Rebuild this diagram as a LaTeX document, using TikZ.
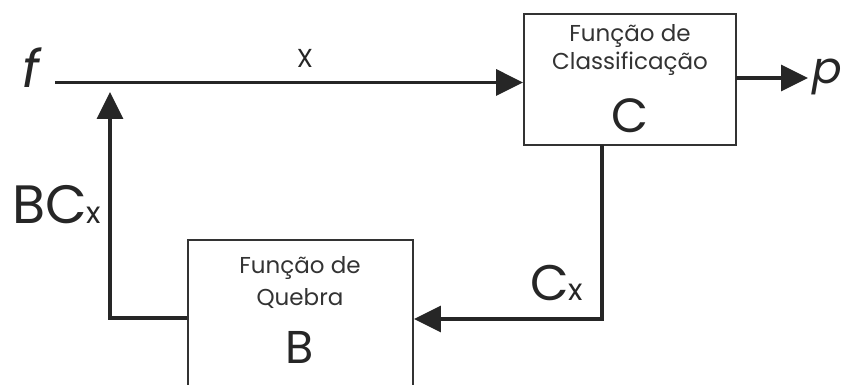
\documentclass[tikz,border=0pt]{standalone}
\usepackage{fontspec}
\setmainfont{Poppins}
\setsansfont{Poppins}
\usetikzlibrary{arrows.meta}
\begin{document}
\begin{tikzpicture}[x=1pt,y=-1pt,
  blk/.style={draw=black!80, line width=1.8pt, inner sep=0pt},
  conn/.style={line width=3.3pt, draw=black!85, -{Triangle[length=27pt,width=26pt]}},
  lbl/.style={inner sep=0pt, text=black!85, anchor=base},
  box txt/.style={inner sep=0pt, anchor=base, text=black!80, font=\fontsize{23}{25}\selectfont}]
\useasboundingbox (0,0) rectangle (843,385);
% boxes
\node[blk, minimum width=212pt, minimum height=131pt] (C) at (630,79.5) {};
\node[blk, minimum width=225pt, minimum height=160pt] (B) at (300.5,320) {};
% box texts
\node[box txt] (Ct1) at (630,42) {Função de};
\node[box txt] (Ct2) at (630,70) {Classificação};
\node[lbl, font=\fontsize{48}{48}\selectfont] (Ct3) at (630,132) {C};
\node[box txt] (Bt1) at (300,273) {Função de};
\node[box txt] (Bt2) at (300,305) {Quebra};
\node[lbl, font=\fontsize{46}{46}\selectfont] (Bt3) at (300,363) {B};
% labels
\node[lbl, font=\itshape\fontsize{52}{52}\selectfont] (f) at (31,88) {f};
\node[lbl, font=\itshape\fontsize{44}{44}\selectfont] (p) at (827,84) {p};
\node[lbl, font=\fontsize{26}{26}\selectfont] (X) at (305,68) {X};
\node[lbl, anchor=base west, font=\fontsize{54}{54}\selectfont] (BC) at (12,223) {BC\fontsize{30}{30}\selectfont x};
\node[lbl, anchor=base west, font=\fontsize{50}{50}\selectfont] (CX) at (530,300) {C\fontsize{30}{30}\selectfont x};
% coordinates
\coordinate (fs) at (55,82.5);
\coordinate (Cin) at (C.west |- fs);
\coordinate (Cout) at (736,78);
\coordinate (pt) at (808,78);
\coordinate (cd1) at (602,145);
\coordinate (cd2) at (602,319);
\coordinate (Bin) at (B.east |- cd2);
\coordinate (bo1) at (B.west |- 0,318);
\coordinate (bo2) at (110,318);
\coordinate (bo3) at (110,92);
% connectors
\draw[conn] (fs) -- (Cin);
\draw[conn] (Cout) -- (pt);
\draw[conn] (cd1) -- (cd2) -- (Bin);
\draw[conn] (bo1) -- (bo2) -- (bo3);
\end{tikzpicture}
\end{document}
